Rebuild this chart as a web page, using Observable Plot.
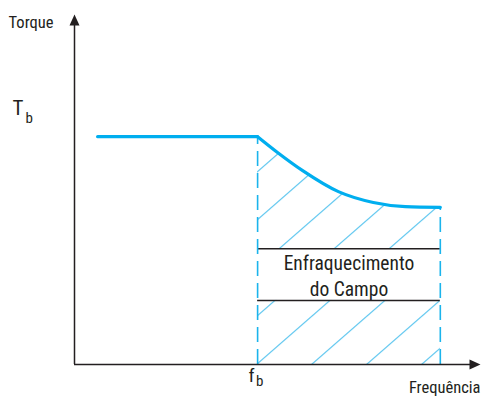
<!DOCTYPE html>
<html>
<head>
<meta charset="utf-8">
<script src="https://cdn.jsdelivr.net/npm/d3@7"></script>
<script src="https://cdn.jsdelivr.net/npm/@observablehq/plot@0.6"></script>
<style>
  html, body { margin: 0; padding: 0; background: #fff; }
  svg { display: block; }
</style>
</head>
<body>
<div id="chart"></div>
<script>
// --- data (arbitrary units: frequency 0..100, torque 0..100) ---
const flatX = [5.7, 45.1];
const flatY = [65.1, 65.1];
const curveX = [45.1, 50.0, 56.2, 65.0, 73.6, 81.5, 90.1];
const curveY = [65.1, 60.6, 55.4, 49.4, 46.3, 45.1, 44.9];
const fb = 45.1;
const fEnd = 90.1;
const boxY = [18.3, 33.1];
const axisLabels = ["Torque", "Frequência"];
const boxLabel = "Enfraquecimento\ndo Campo";

const curve = curveX.map((x, i) => ({x, y: curveY[i]}));
const flat = flatX.map((x, i) => ({x, y: flatY[i]}));

const FONT = "'Liberation Sans Narrow', 'Roboto Condensed', 'Arial Narrow', Roboto, sans-serif";
const BLUE = "#00aeef";
const HATCH = "#5cc6ef";
const DASH = "#1bb4ec";
const INK = "#231f20";

const arrowSymbol = {
  draw(ctx) {
    ctx.moveTo(0, 0);
    ctx.lineTo(-5, 11);
    ctx.lineTo(5, 11);
    ctx.closePath();
  }
};

const svg = Plot.plot({
  width: 482,
  height: 396,
  marginLeft: 74,
  marginRight: 2,
  marginTop: 14,
  marginBottom: 32,
  x: {domain: [0, 100], axis: null},
  y: {domain: [0, 100], axis: null},
  style: {fontFamily: FONT, background: "#fff"},
  marks: [
    // hatched region under the weakened-field curve
    Plot.areaY(curve, {x: "x", y1: 0, y2: "y", curve: "monotone-x", fill: "url(#hatch)"}),
    // white label box
    Plot.rect([{x1: fb, x2: fEnd, y1: boxY[0], y2: boxY[1]}], {x1: "x1", x2: "x2", y1: "y1", y2: "y2", fill: "#fff"}),
    Plot.ruleY(boxY, {x1: fb, x2: fEnd, stroke: INK, strokeWidth: 1.5}),
    // dashed verticals
    Plot.ruleX([fb], {y1: 0, y2: flatY[1], stroke: DASH, strokeWidth: 1.6, strokeDasharray: "15,7"}),
    Plot.ruleX([fEnd], {y1: 0, y2: curveY[curveY.length - 1], stroke: DASH, strokeWidth: 1.6, strokeDasharray: "15,7"}),
    // torque curve: constant part then field weakening
    Plot.line(flat, {x: "x", y: "y", stroke: BLUE, strokeWidth: 3.2, strokeLinecap: "round"}),
    Plot.line(curve, {x: "x", y: "y", curve: "monotone-x", stroke: BLUE, strokeWidth: 3.2, strokeLinecap: "round"}),
    // axes
    Plot.ruleX([0], {y1: 0, y2: 97, stroke: INK, strokeWidth: 1.5}),
    Plot.ruleY([0], {x1: 0, x2: 98, stroke: INK, strokeWidth: 1.5}),
    Plot.dot([{x: 0, y: 100}], {x: "x", y: "y", symbol: arrowSymbol, fill: INK, stroke: "none"}),
    Plot.dot([{x: 100, y: 0}], {x: "x", y: "y", symbol: arrowSymbol, fill: INK, stroke: "none", rotate: 90}),
    // labels
    Plot.text([axisLabels[0]], {x: 0, y: 100, text: d => d, textAnchor: "end", dx: -21, dy: 8, fontSize: 16.5, fill: INK}),
    Plot.text([axisLabels[1]], {x: 100, y: 0, text: d => d, textAnchor: "end", dx: 0, dy: 23, fontSize: 16.5, fill: INK}),
    Plot.text(["T"], {x: 0, y: flatY[0], text: d => d, textAnchor: "start", dx: -62, dy: -28, fontSize: 21, fill: INK}),
    Plot.text(["b"], {x: 0, y: flatY[0], text: d => d, textAnchor: "start", dx: -49, dy: -18, fontSize: 15, fill: INK}),
    Plot.text(["f"], {x: fb, y: 0, text: d => d, dx: -6, dy: 11, fontSize: 19, fill: INK}),
    Plot.text(["b"], {x: fb, y: 0, text: d => d, dx: 2, dy: 17, fontSize: 15, fill: INK}),
    Plot.text([boxLabel], {x: (fb + fEnd) / 2, y: (boxY[0] + boxY[1]) / 2, text: d => d, lineAnchor: "middle", lineHeight: 1.33, fontSize: 19.5, fill: INK})
  ]
});

// hatch pattern anchored at (fb, 0)
const px = svg.scale("x").apply(fb);
const py = svg.scale("y").apply(0);
const W = 55, H = 48;
d3.select(svg).insert("defs", ":first-child").html(
  `<pattern id="hatch" patternUnits="userSpaceOnUse" x="${px}" y="${py}" width="${W}" height="${H}">
     <line x1="0" y1="${H}" x2="${W}" y2="0" stroke="${HATCH}" stroke-width="1.2"/>
     <line x1="${-W/4}" y1="${H/4}" x2="${W/4}" y2="${-H/4}" stroke="${HATCH}" stroke-width="1.2"/>
     <line x1="${W*3/4}" y1="${H*5/4}" x2="${W*5/4}" y2="${H*3/4}" stroke="${HATCH}" stroke-width="1.2"/>
   </pattern>`
);

document.getElementById("chart").appendChild(svg);
</script>
</body>
</html>
